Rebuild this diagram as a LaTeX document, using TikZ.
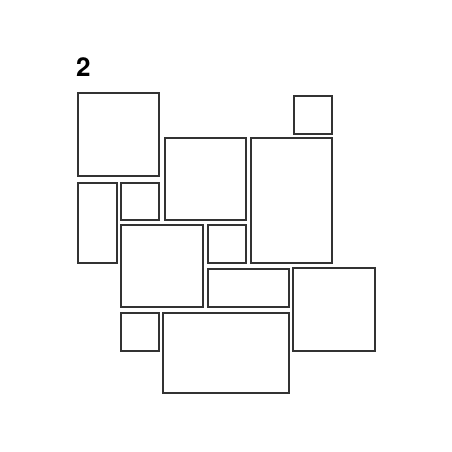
\documentclass[tikz,border=0pt]{standalone}
\usepackage{fontspec}
\setmainfont{TeX Gyre Heros}
\begin{document}
\begin{tikzpicture}[x=1pt,y=-1pt,
  tile/.style={draw=black!80,line width=1.4pt,fill=white}]
\useasboundingbox (0,0) rectangle (452,452);
\node[anchor=south west,inner sep=0pt,font=\bfseries\fontsize{26}{26}\selectfont] (lbl) at (76,77) {2};
\draw[tile] (78,93) rectangle (159,176);
\draw[tile] (165,138) rectangle (246,220);
\draw[tile] (78,183) rectangle (117,263);
\draw[tile] (121,183) rectangle (159,220);
\draw[tile] (251,138) rectangle (332,263);
\draw[tile] (294,96) rectangle (332,134);
\draw[tile] (208,225) rectangle (246,263);
\draw[tile] (121,225) rectangle (203,307);
\draw[tile] (208,269) rectangle (289,307);
\draw[tile] (293,268) rectangle (375,351);
\draw[tile] (121,313) rectangle (159,351);
\draw[tile] (163,313) rectangle (289,393);
\end{tikzpicture}
\end{document}
